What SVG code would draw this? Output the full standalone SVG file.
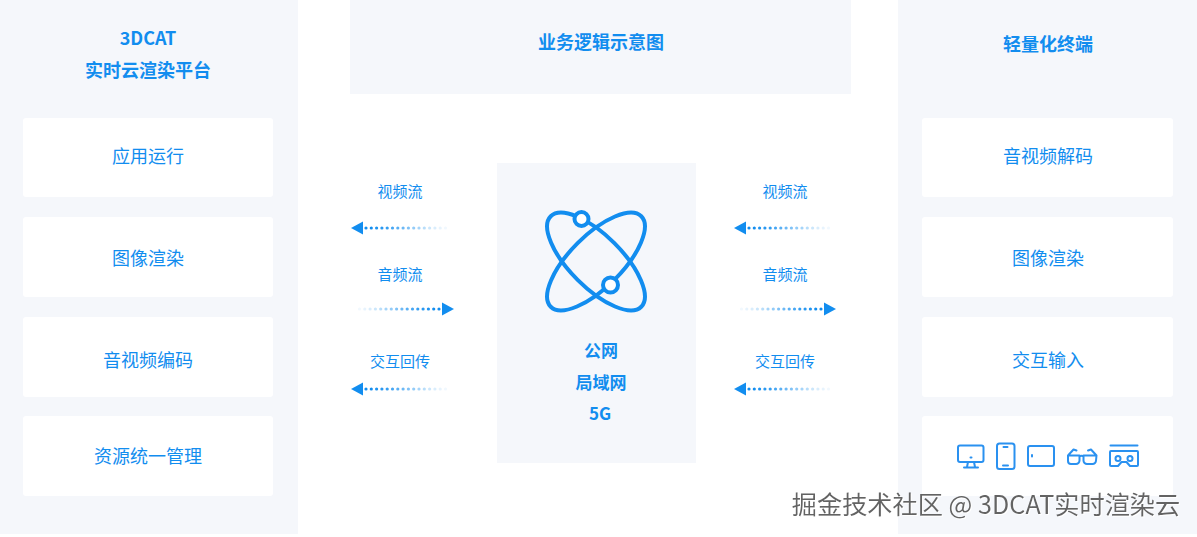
<svg xmlns="http://www.w3.org/2000/svg" width="1197" height="537" viewBox="0 0 1197 537">
<style>
text{font-family:"Noto Sans CJK SC","Noto Sans",sans-serif;text-anchor:middle;fill:#128def}
.panel{fill:#f5f7fb}
.card{fill:#fff}
.t{font-size:18px;font-weight:700}
.c{font-size:18px}
.l{font-size:15px}
.m{font-size:17px;font-weight:700}
.ic{fill:none;stroke:#2a91f0;stroke-width:2;stroke-linejoin:round;stroke-linecap:round}
.at{fill:none;stroke:#128def;stroke-width:4}
.head{fill:#128def}
.dots circle{fill:#128def}
</style>
<defs>
<filter id="ws" x="-5%" y="-30%" width="110%" height="160%"><feDropShadow dx="1" dy="1" stdDeviation="0.3" flood-color="#fff" flood-opacity="1"/></filter>
<g id="arrowL" class="dots">
<polygon class="head" points="0,0 12,-6.500 12,6.500"/>
<circle cx="15" r="1.600"/><circle cx="20.300" r="1.600"/><circle cx="25.600" r="1.600" opacity=".95"/><circle cx="30.900" r="1.600" opacity=".9"/><circle cx="36.200" r="1.600" opacity=".85"/><circle cx="41.500" r="1.600" opacity=".78"/><circle cx="46.800" r="1.600" opacity=".7"/><circle cx="52.100" r="1.600" opacity=".62"/><circle cx="57.400" r="1.600" opacity=".54"/><circle cx="62.700" r="1.600" opacity=".46"/><circle cx="68" r="1.600" opacity=".38"/><circle cx="73.300" r="1.600" opacity=".3"/><circle cx="78.600" r="1.600" opacity=".22"/><circle cx="83.900" r="1.600" opacity=".16"/><circle cx="89.200" r="1.600" opacity=".1"/><circle cx="94.500" r="1.600" opacity=".06"/>
</g>
</defs>
<rect width="1197" height="537" fill="#fff"/>
<g id="panel-left"><rect class="panel" x="0" y="0" width="298" height="534"/>
<text class="t" x="148" y="45">3DCAT</text><text class="t" x="148" y="77">实时云渲染平台</text></g>
<g id="panel-top"><rect class="panel" x="350" y="0" width="501" height="94"/><text class="t" x="601" y="49">业务逻辑示意图</text></g>
<g id="panel-right"><rect class="panel" x="898" y="0" width="299" height="534"/><text class="t" x="1048" y="51">轻量化终端</text></g>
<g id="l1"><rect class="card" x="23" y="118" width="250" height="79" rx="3"/><text class="c" x="148" y="163">应用运行</text></g>
<g id="l2"><rect class="card" x="23" y="217" width="250" height="80" rx="3"/><text class="c" x="148" y="265">图像渲染</text></g>
<g id="l3"><rect class="card" x="23" y="317" width="250" height="80" rx="3"/><text class="c" x="148" y="367">音视频编码</text></g>
<g id="l4"><rect class="card" x="23" y="416" width="250" height="80" rx="3"/><text class="c" x="148" y="463">资源统一管理</text></g>
<g id="r1"><rect class="card" x="922" y="118" width="251" height="79" rx="3"/><text class="c" x="1048" y="163">音视频解码</text></g>
<g id="r2"><rect class="card" x="922" y="217" width="251" height="80" rx="3"/><text class="c" x="1048" y="265">图像渲染</text></g>
<g id="r3"><rect class="card" x="922" y="317" width="251" height="80" rx="3"/><text class="c" x="1048" y="367">交互输入</text></g>
<g id="r4"><rect class="card" x="922" y="416" width="251" height="80" rx="3"/>
<g class="ic">
<rect x="958" y="445.500" width="25.500" height="16.500" rx="2"/><path d="M968 462l-1 5M974 462l1 5M964 467.500h14M970.500 457.500h1"/>
<rect x="997" y="443.500" width="17.500" height="25.500" rx="2.500"/><path d="M1003.500 447h4M1003 465.500h5"/>
<rect x="1028" y="446" width="26" height="20" rx="2"/><path d="M1032 455v1.500"/>
<path d="M1068 455.500h11.500v5a3.500 3.500 0 0 1-3.500 3.500h-5a3 3 0 0 1-3-3zM1083.500 455.500h13l-.5 5a3.500 3.500 0 0 1-3.500 3.500h-5.500a3.500 3.500 0 0 1-3.500-3.500zM1079.500 456.500q2-1.500 4 0M1068 455.500l5.500-6 3 1M1096.500 455.500l-5.500-6-3 1"/>
<path d="M1110.500 445.500h27M1111 451h26a1 1 0 0 1 1 1v13a1 1 0 0 1-1 1h-7l-3.500-4h-5l-3.500 4h-7a1 1 0 0 1-1-1v-13a1 1 0 0 1 1-1z"/><circle cx="1118" cy="458.500" r="2.500"/><circle cx="1130" cy="458.500" r="2.500"/>
</g></g>
<g id="center"><rect class="panel" x="497" y="163" width="199" height="300"/>
<ellipse class="at" cx="596" cy="261.500" rx="64" ry="26" transform="rotate(45 596 261.500)"/>
<ellipse class="at" cx="596" cy="261.500" rx="64" ry="26" transform="rotate(-45 596 261.500)"/>
<circle class="at" cx="581.500" cy="219" r="7" style="fill:#fff"/>
<circle class="at" cx="610.500" cy="285" r="7.500" style="fill:#fff"/>
<text class="m" x="601" y="357">公网</text><text class="m" x="601" y="389">局域网</text><text class="m" x="600" y="420">5G</text></g>
<g id="connectors">
<use href="#arrowL" x="351" y="228"/>
<use href="#arrowL" transform="translate(454,309) scale(-1,1)"/>
<use href="#arrowL" x="351" y="389"/>
<use href="#arrowL" x="734" y="228"/>
<use href="#arrowL" transform="translate(836,309) scale(-1,1)"/>
<use href="#arrowL" x="734" y="389"/>
</g>
<g id="labels">
<text class="l" x="400" y="197">视频流</text><text class="l" x="400" y="280">音频流</text><text class="l" x="400" y="367">交互回传</text>
<text class="l" x="785" y="197">视频流</text><text class="l" x="785" y="280">音频流</text><text class="l" x="785" y="367">交互回传</text>
</g>
<text x="986" y="514" style="font-size:25.200px;fill:#636363" filter="url(#ws)">掘金技术社区 @ 3DCAT实时渲染云</text>
</svg>
